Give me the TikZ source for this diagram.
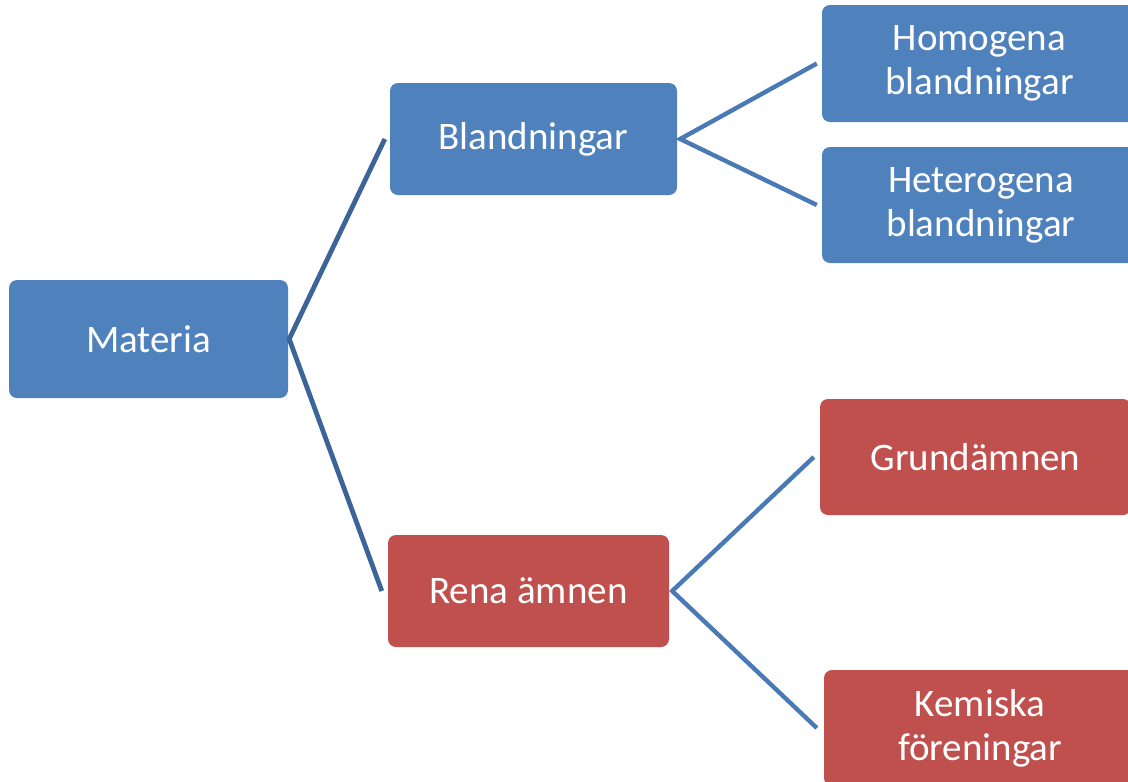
\documentclass[tikz,border=0pt]{standalone}
\usepackage{fontspec}
\setmainfont{Carlito}
\definecolor{boxblue}{RGB}{79,129,189}
\definecolor{boxred}{RGB}{192,80,77}
\definecolor{linkdark}{RGB}{61,100,152}
\definecolor{linklight}{RGB}{74,122,182}
\tikzset{
  cat/.style={rounded corners=8pt, text=white, align=center,
    font=\fontsize{39}{44}\selectfont, inner sep=0pt},
  bluebox/.style={cat, fill=boxblue},
  redbox/.style={cat, fill=boxred},
  link/.style={line width=4.4pt, linklight, miter limit=20},
  rootlink/.style={line width=4.8pt, linkdark, miter limit=20}
}
\begin{document}
\begin{tikzpicture}[x=1pt,y=-1pt]
\useasboundingbox (0,0) rectangle (1128,782);
\clip (0,0) rectangle (1128,782);
% category boxes
\node[bluebox, minimum width=279pt, minimum height=118pt] (mat) at (148.5,339) {Materia};
\node[bluebox, minimum width=287pt, minimum height=112pt] (bla) at (533.5,139) {Blandningar};
\node[redbox, minimum width=281pt, minimum height=112pt] (ren) at (528.5,591) {Rena ämnen};
\node[bluebox, minimum width=315pt, minimum height=117pt] (hom) at (979.5,63.5) {Homogena\\blandningar};
\node[bluebox, minimum width=318pt, minimum height=116pt] (het) at (981,205) {Heterogena\\blandningar};
\node[redbox, minimum width=311pt, minimum height=116pt] (gru) at (975.5,457) {Grundämnen};
\node[redbox, minimum width=312pt, minimum height=116pt] (kem) at (980,728) {Kemiska\\föreningar};
% connectors
\draw[rootlink] ([xshift=-5pt]bla.west) -- ([xshift=1pt]mat.east) -- ([xshift=-6pt]ren.west);
\draw[link] ([xshift=-5pt]hom.west) -- ([xshift=3pt]bla.east) -- ([xshift=-5pt]het.west);
\draw[link] ([xshift=-6pt]gru.west) -- ([xshift=3pt]ren.east) -- ([xshift=-7pt]kem.west);
\end{tikzpicture}
\end{document}
